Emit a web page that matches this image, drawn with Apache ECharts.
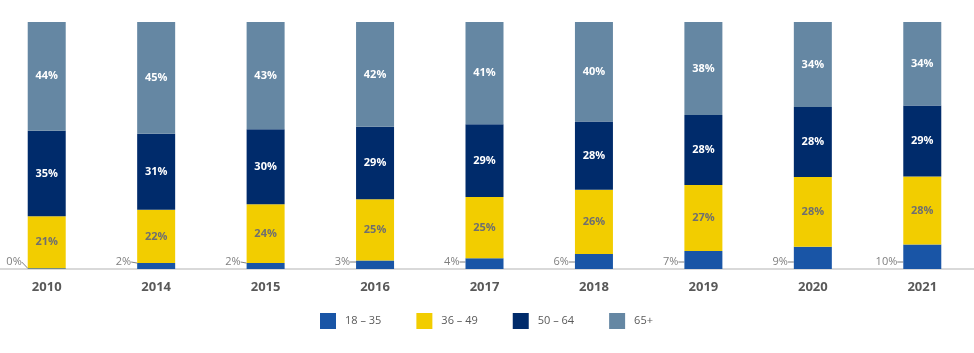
<!DOCTYPE html>
<html>
<head>
<meta charset="utf-8">
<script src="https://cdn.jsdelivr.net/npm/echarts@6/dist/echarts.min.js"></script>
<style>
html,body{margin:0;padding:0;background:#fff;}
#c{width:974px;height:353px;}
</style>
</head>
<body>
<div id="c"></div>
<script>
const categories = ['2010', '2014', '2015', '2016', '2017', '2018', '2019', '2020', '2021'];
const seriesNames = ['18 – 35', '36 – 49', '50 – 64', '65+'];
const age18_35 = [0.3, 2.4, 2.4, 3.4, 4.4, 6.1, 7.3, 9.0, 9.9];
const age36_49 = [21.1, 21.6, 23.8, 24.8, 24.8, 26.0, 26.7, 28.2, 27.6];
const age50_64 = [34.6, 30.8, 30.4, 29.4, 29.4, 27.6, 28.3, 28.4, 28.7];
const age65plus = [44.0, 45.2, 43.4, 42.4, 41.4, 40.3, 37.7, 34.4, 33.8];

const colors = ['#1955A6', '#F2CD00', '#002B6B', '#6587A3'];
const FONT = '"Open Sans", "Noto Sans", sans-serif';
const fmt = p => Math.round(p.value) + '%';

const chart = echarts.init(document.getElementById('c'), null, {renderer: 'canvas'});

function inner(color) {
  return {show: true, position: 'inside', formatter: fmt, color: color, fontSize: 11, fontWeight: 'bold', fontFamily: FONT};
}

chart.setOption({
  animation: false,
  color: colors,
  grid: {left: -8, right: -3, top: 22, bottom: 84, containLabel: false, outerBoundsMode: 'none'},
  legend: {
    data: seriesNames,
    left: 315, top: 308,
    itemWidth: 16, itemHeight: 16, itemGap: 35,
    icon: 'rect',
    textStyle: {color: '#595959', fontSize: 11, fontFamily: FONT, padding: [0, 0, 0, 4]}
  },
  xAxis: {
    type: 'category',
    data: categories,
    axisTick: {show: false},
    axisLine: {lineStyle: {color: '#d9d9d9', width: 2}},
    axisLabel: {color: '#595959', fontSize: 13, fontWeight: 'bold', fontFamily: FONT, margin: 12}
  },
  yAxis: {type: 'value', min: 0, max: 100, show: false, splitLine: {show: false}},
  series: [
    {
      name: seriesNames[0], type: 'bar', stack: 'total', barWidth: 38, data: age18_35,
      label: {show: true, position: 'left', formatter: fmt, color: '#7f7f7f', fontSize: 11, fontFamily: FONT},
      labelLine: {show: true, lineStyle: {color: '#7f7f7f', width: 1}},
      labelLayout: function (params) {
        const r = params.rect;
        const bottom = r.y + r.height;
        const ly = bottom - 7;
        return {
          x: r.x - 6, y: ly, align: 'right', verticalAlign: 'middle',
          labelLinePoints: [[r.x - 6, ly], [r.x - 3, ly + 3.5], [r.x, bottom]]
        };
      }
    },
    {name: seriesNames[1], type: 'bar', stack: 'total', barWidth: 38, data: age36_49, label: inner('#6f6f6f')},
    {name: seriesNames[2], type: 'bar', stack: 'total', barWidth: 38, data: age50_64, label: inner('#ffffff')},
    {name: seriesNames[3], type: 'bar', stack: 'total', barWidth: 38, data: age65plus, label: inner('#ffffff')}
  ]
});
</script>
</body>
</html>
